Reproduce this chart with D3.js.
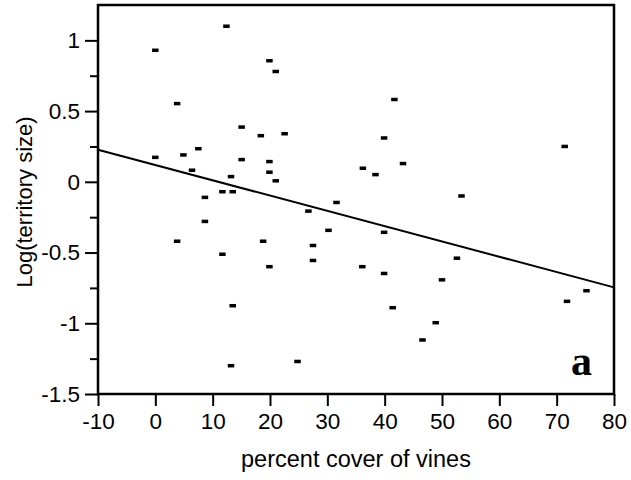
<!DOCTYPE html>
<html>
<head>
<meta charset="utf-8">
<script src="https://cdn.jsdelivr.net/npm/d3@7"></script>
<style>
  body { margin: 0; background: #fff; }
  text { font-family: "Liberation Sans", Arial, sans-serif; }
</style>
</head>
<body>
<div id="chart"></div>
<script>
  // Scatter data: percent cover of vines vs log(territory size)
  const coverVines = [
    0, 12.4, 19.9, 21.0, 3.8, 15.05, 18.4, 22.55, 7.5, 0,
    4.9, 15.05, 19.9, 6.4, 19.9, 21.0, 13.2, 11.7, 13.5, 8.65,
    8.65, 26.7, 41.7, 39.9, 43.2, 36.2, 38.4, 71.4, 53.4, 31.6,
    30.2, 39.9, 3.8, 18.8, 11.7, 19.9, 13.5, 13.2, 27.5, 27.5,
    36.1, 39.9, 50.0, 41.4, 48.9, 46.6, 24.8, 52.6, 75.2, 71.8
  ];
  const logTerritory = [
    0.93, 1.10, 0.856, 0.78, 0.553, 0.387, 0.326, 0.34, 0.234, 0.173,
    0.19, 0.157, 0.143, 0.082, 0.068, 0.007, 0.037, -0.07, -0.07, -0.11,
    -0.28, -0.207, 0.582, 0.31, 0.129, 0.096, 0.051, 0.25, -0.10, -0.146,
    -0.343, -0.357, -0.42, -0.42, -0.512, -0.60, -0.876, -1.30, -0.45, -0.556,
    -0.60, -0.648, -0.693, -0.89, -0.996, -1.118, -1.27, -0.54, -0.77, -0.845
  ];

  // Fitted regression line (end points)
  const fitX = [-10, 80];
  const fitY = [0.227, -0.746];

  const xTicks = [-10, 0, 10, 20, 30, 40, 50, 60, 70, 80];
  const yTicks = [-1.5, -1, -0.5, 0, 0.5, 1];
  const yMinorTicks = [-1.25, -0.75, -0.25, 0.25, 0.75];

  const margin = { top: 5, right: 17, bottom: 86, left: 98 };
  const width = 631 - margin.left - margin.right;
  const height = 480 - margin.top - margin.bottom;

  const svg = d3.select("#chart")
    .append("svg")
    .attr("width", 631)
    .attr("height", 480)
    .append("g")
    .attr("transform", `translate(${margin.left},${margin.top})`);

  const x = d3.scaleLinear().domain([-10, 80]).range([0, width]);
  const y = d3.scaleLinear().domain([-1.5, 1.25]).range([height, 0]);

  // plain hyphen for negative numbers, like the original
  const fmt = d => String(d);

  // Frame
  svg.append("rect")
    .attr("x", 0)
    .attr("y", 0)
    .attr("width", width)
    .attr("height", height)
    .attr("fill", "none")
    .attr("stroke", "#000")
    .attr("stroke-width", 2.5);

  // X axis
  const xAxis = svg.append("g")
    .attr("transform", `translate(0,${height})`)
    .call(d3.axisBottom(x).tickValues(xTicks).tickSize(12).tickPadding(7).tickFormat(fmt));
  xAxis.select(".domain").remove();
  xAxis.selectAll("line").attr("stroke-width", 2);
  xAxis.selectAll("text").style("font-size", "22.5px").attr("fill", "#000");

  // Y axis, major and minor ticks
  const yAxis = svg.append("g")
    .call(d3.axisLeft(y).tickValues(yTicks).tickSize(13).tickPadding(5).tickFormat(fmt));
  yAxis.select(".domain").remove();
  yAxis.selectAll("line").attr("stroke-width", 2);
  yAxis.selectAll("text").style("font-size", "22.5px").attr("fill", "#000");

  const yMinor = svg.append("g")
    .call(d3.axisLeft(y).tickValues(yMinorTicks).tickSize(8).tickFormat(""));
  yMinor.select(".domain").remove();
  yMinor.selectAll("line").attr("stroke-width", 2);

  // Regression line
  svg.append("line")
    .attr("x1", x(fitX[0]))
    .attr("y1", y(fitY[0]))
    .attr("x2", x(fitX[1]))
    .attr("y2", y(fitY[1]))
    .attr("stroke", "#000")
    .attr("stroke-width", 2);

  // Points as small rectangles
  svg.selectAll(".pt")
    .data(coverVines.map((d, i) => [d, logTerritory[i]]))
    .enter()
    .append("rect")
    .attr("class", "pt")
    .attr("x", d => x(d[0]) - 3.25)
    .attr("y", d => y(d[1]) - 1.75)
    .attr("width", 6.5)
    .attr("height", 3.5)
    .attr("fill", "#000");

  // Axis titles
  svg.append("text")
    .attr("x", width / 2)
    .attr("y", 462)
    .attr("text-anchor", "middle")
    .style("font-size", "23.5px")
    .text("percent cover of vines");

  svg.append("text")
    .attr("transform", `translate(${32 - margin.left},${202 - margin.top}) rotate(-90)`)
    .attr("text-anchor", "middle")
    .style("font-size", "22px")
    .text("Log(territory size)");

  // Panel letter
  svg.append("text")
    .attr("x", 571 - margin.left)
    .attr("y", 375 - margin.top)
    .style("font-family", "'Liberation Serif', 'Times New Roman', serif")
    .style("font-weight", "bold")
    .style("font-size", "42px")
    .text("a");
</script>
</body>
</html>
